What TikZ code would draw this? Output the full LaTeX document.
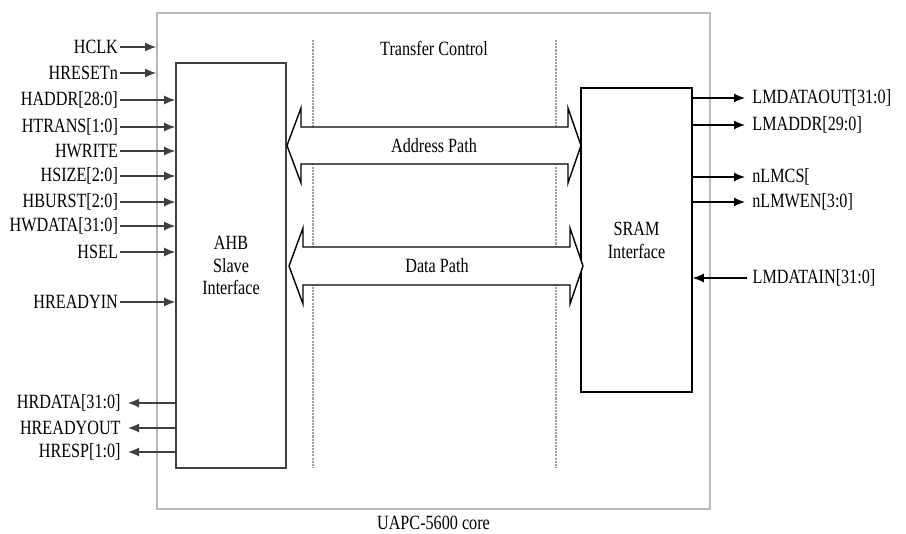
\documentclass[tikz,border=0pt]{standalone}
\usepackage{fontspec}
\setmainfont{Liberation Serif}[FakeStretch=0.8]
\usetikzlibrary{arrows.meta, positioning, calc}

\begin{document}
\begin{tikzpicture}[x=0.2mm, y=-0.2mm, font=\fontsize{11.5}{13}\selectfont,
	blk/.style={draw, line width=0.9pt, inner sep=0pt, align=center},
	sig/.style={inner sep=1pt},
	wire/.style={line width=0.7pt, -{Latex[length=2.2mm, width=1.8mm]}},
	ctl/.style={gray!75, dash pattern=on 1.2pt off 0.6pt, line width=0.6pt},
	bus/.style={draw, line width=0.8pt, fill=white}]
	\useasboundingbox (0,0) rectangle (906,533);
	% core
	\node[draw=gray!55, line width=1pt, minimum width=110.6mm, minimum height=99.2mm] (core) at (433.5,261) {};
	\node[inner sep=0pt, below=1.2mm of core] (corelbl) {UAPC-5600 core};
	% transfer control
	\draw[ctl] (313,40) -- (313,468);
	\draw[ctl] (556,40) -- (556,468);
	\node (tc) at (434,48) {Transfer Control};
	% blocks
	\node[blk, draw=black!75, minimum width=22mm, minimum height=81mm] (ahb) at (231,265.5) {AHB\\Slave\\Interface};
	\node[blk, minimum width=22.2mm, minimum height=60.8mm] (sram) at (636.5,240) {SRAM\\Interface};
	% paths
	\draw[bus] (287,145.5) -- (301,108) -- (301,127) -- (568,127) -- (568,108) -- (581,145.5)
		-- (568,183) -- (568,164) -- (301,164) -- (301,183) -- cycle;
	\node (addr) at (434,146) {Address Path};
	\draw[bus] (289,266) -- (303,228) -- (303,247) -- (570,247) -- (570,228) -- (583,266)
		-- (570,304) -- (570,285) -- (303,285) -- (303,304) -- cycle;
	\node (data) at (437,266) {Data Path};
	% AHB side
	\foreach \t/\y [count=\i] in {HCLK/47, HRESETn/73}{
		\node[sig, anchor=east] (clk\i) at (120,\y) {\t};
		\draw[wire, black!75] (clk\i.east) -- (clk\i.east -| core.west);
	}
	\foreach \t/\y [count=\i] in {HADDR[28:0]/100, HTRANS[1:0]/127, HWRITE/151, HSIZE[2:0]/176,
		HBURST[2:0]/202, HWDATA[31:0]/226, HSEL/252, HREADYIN/302}{
		\node[sig, anchor=east] (in\i) at (120,\y) {\t};
		\draw[wire, black!75] (in\i.east) -- (in\i.east -| ahb.west);
	}
	\foreach \t/\y [count=\i] in {HRDATA[31:0]/403, HREADYOUT/428, HRESP[1:0]/452}{
		\node[sig, inner xsep=4pt, anchor=east] (out\i) at (128,\y) {\t};
		\draw[wire, black!75] (out\i.east -| ahb.west) -- (out\i.east);
	}
	% SRAM side
	\foreach \t/\y [count=\i] in {LMDATAOUT[31:0]/98, LMADDR[29:0]/125, nLMCS[/177, nLMWEN[3:0]/202}{
		\node[sig, inner xsep=4pt, anchor=west] (lm\i) at (745,\y) {\t};
		\draw[wire] (lm\i.west -| sram.east) -- (lm\i.west);
	}
	\node[sig, inner xsep=3pt, anchor=west] (lmin) at (747,278) {LMDATAIN[31:0]};
	\draw[wire] (lmin.west) -- (lmin.west -| sram.east);
\end{tikzpicture}
\end{document}
